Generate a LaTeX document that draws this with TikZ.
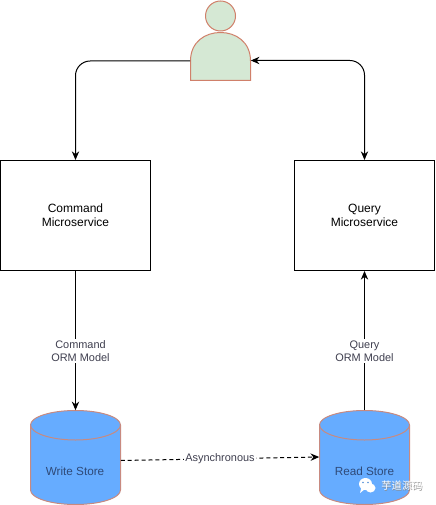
\documentclass[tikz,border=0pt]{standalone}
\usepackage{fontspec}
\setmainfont{Liberation Sans}
\newfontfamily\cjk{Noto Sans CJK SC}
\usetikzlibrary{arrows.meta}
\definecolor{pers}{HTML}{D5E8D4}
\definecolor{edgeo}{HTML}{D0806A}
\definecolor{cylf}{HTML}{66ACFF}
\definecolor{cyle}{HTML}{C88A80}
\definecolor{cylt}{HTML}{2F4A78}
\definecolor{lbl}{HTML}{3F3F4F}
\tikzset{
  x=0.75pt,y=-0.75pt,
  box/.style={draw=black,line width=0.75pt,fill=white,align=center,font=\fontsize{9pt}{10.2pt}\selectfont,inner sep=0pt,minimum height=82.5pt},
  shapeline/.style={draw=edgeo,line width=0.75pt,fill=pers},
  cyl/.style={draw=cyle,line width=0.75pt,fill=cylf},
  conn/.style={draw=black,line width=0.75pt,-{Stealth[length=6.5pt,width=5.5pt]}},
  edgelbl/.style={fill=white,inner sep=1pt,text=lbl,align=center,font=\fontsize{8.2pt}{9.75pt}\selectfont},
  cyllbl/.style={text=cylt,font=\fontsize{8.8pt}{10pt}\selectfont,inner sep=0pt},
  anchorbox/.style={inner sep=0pt,minimum width=67.5pt,minimum height=70.5pt},
  wmtext/.style={inner sep=0pt,font=\cjk\fontsize{7.7pt}{9pt}\selectfont},
}
\newcommand{\drawcyl}[1]{%
  \path[cyl] (#1-45,425) .. controls (#1-45,417) and (#1-25,410.5) .. (#1,410.5)
    .. controls (#1+25,410.5) and (#1+45,417) .. (#1+45,425) -- (#1+45,490)
    .. controls (#1+45,498) and (#1+25,504.5) .. (#1,504.5)
    .. controls (#1-25,504.5) and (#1-45,498) .. (#1-45,490) -- cycle;
  \path[draw=cyle,line width=0.75pt] (#1-45,425) .. controls (#1-45,433) and (#1-25,440) .. (#1,440)
    .. controls (#1+25,440) and (#1+45,433) .. (#1+45,425);
}
\begin{document}
\begin{tikzpicture}
\useasboundingbox[fill=white] (0,0) rectangle (435,505);
% person
\path[shapeline] (190.5,80.5) -- (190.5,61) .. controls (190.5,42) and (205,32.5) .. (220.5,32.5)
  .. controls (236,32.5) and (250.5,42) .. (250.5,61) -- (250.5,80.5) -- cycle;
\node[shapeline,circle,minimum size=22.5pt,inner sep=0pt] (head) at (220.5,16) {};
\node[inner sep=0pt,minimum width=45pt,minimum height=36pt] (person) at (220.5,56.5) {};
% boxes
\node[box,minimum width=112.5pt] (cmd) at (75.5,215.5) {Command\\Microservice};
\node[box,minimum width=105pt] (qry) at (364.5,215.5) {Query\\Microservice};
% stores
\drawcyl{75.5}
\drawcyl{364.5}
\node[anchorbox] (ws) at (75.5,457.5) {};
\node[anchorbox] (rs) at (364.5,457.5) {};
\node[cyllbl] (wslabel) at (75,471) {Write Store};
\node[cyllbl] (rslabel) at (364.5,471) {Read Store};
% connectors
\draw[conn,rounded corners=11pt] (person.west |- 0,61) -| (cmd.north);
\draw[conn,{Stealth[length=6.5pt,width=5.5pt]}-{Stealth[length=6.5pt,width=5.5pt]},rounded corners=11pt] (person.east |- 0,60.5) -| (qry.north);
\draw[conn] (cmd.south) -- node[edgelbl,pos=0.575,xshift=3.75pt] (l1) {Command\\ORM Model} (ws.north);
\draw[conn] (rs.north) -- node[edgelbl,pos=0.425] (l2) {Query\\ORM Model} (qry.south);
\draw[conn,dashed,dash pattern=on 3pt off 2.2pt] (ws.east |- 0,460.5) -- node[edgelbl,pos=0.5] (l3) {Asynchronous} (rs.west |- 0,457);
% watermark
\fill[white] (365.5,484) ellipse[x radius=6.5,y radius=6];
\fill[white] (360,493) -- (361.5,487) -- (365,489) -- cycle;
\fill[white] (370.5,488) ellipse[x radius=5,y radius=4.5];
\fill[cylf!85!black] (363,482.5) circle[radius=0.8];
\fill[cylf!85!black] (368,482.5) circle[radius=0.8];
\node[wmtext,text=black!45] (wmshadow) at (402.5,486.5) {芋道源码};
\node[wmtext,text=white] (wm) at (402,486) {芋道源码};
\end{tikzpicture}
\end{document}
